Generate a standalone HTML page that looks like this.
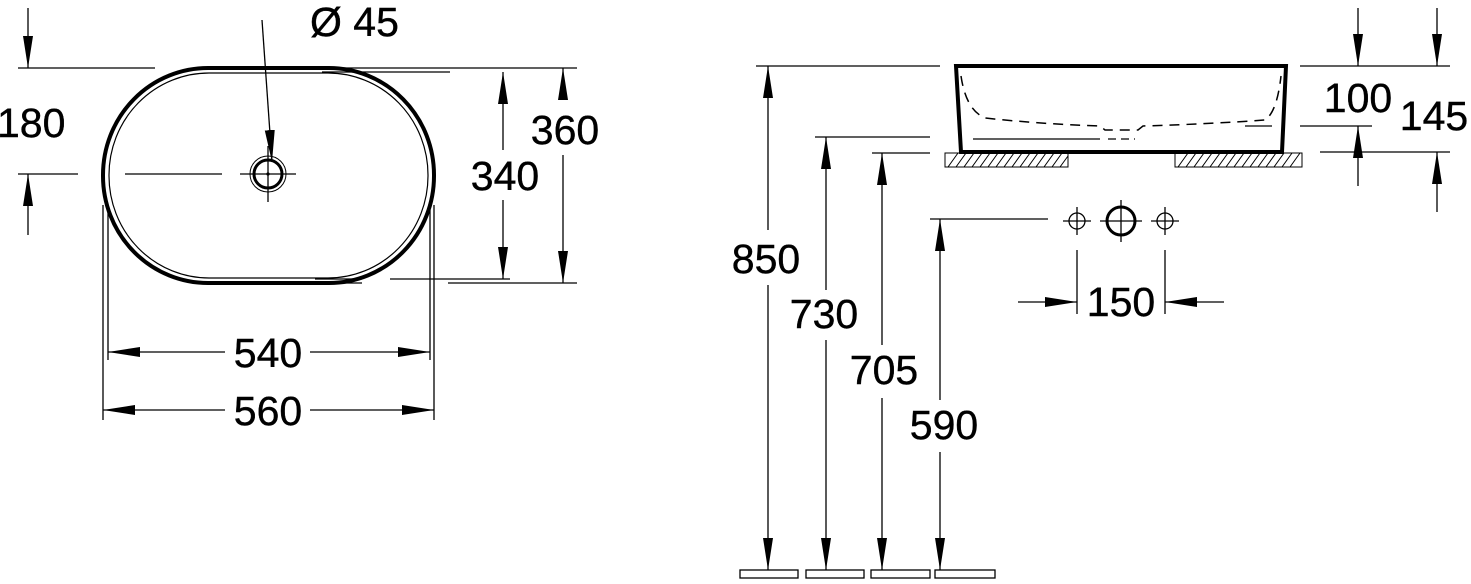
<!DOCTYPE html>
<html><head><meta charset="utf-8"><style>
html,body{margin:0;padding:0;background:#fff;}
svg{display:block;}
text{font-family:"Liberation Sans",sans-serif;font-size:41px;fill:#000;stroke:#000;stroke-width:0.4;}
</style></head><body>
<svg width="1471" height="584" viewBox="0 0 1471 584" xmlns="http://www.w3.org/2000/svg">
<defs>
<marker id="a" markerUnits="userSpaceOnUse" markerWidth="34" markerHeight="12" refX="32" refY="5" orient="auto">
<polygon points="0,0 32,5 0,10" fill="#000"/>
</marker>
</defs>
<g stroke="#000" stroke-width="1.3" fill="none">
<rect x="103" y="68" width="331" height="215" rx="105" ry="107" stroke-width="4"/>
<rect x="109" y="73" width="319" height="205" rx="100" ry="102" stroke-width="1.2"/>
<circle cx="268" cy="174" r="18" stroke-width="1"/>
<circle cx="268" cy="174" r="14" stroke-width="3"/>
<circle cx="268" cy="174" r="1" fill="#000"/>
<line x1="268" y1="146" x2="268" y2="202"/>
<line x1="240" y1="174" x2="296" y2="174"/>
<line x1="125" y1="174" x2="222" y2="174"/>
<line x1="18" y1="174" x2="78" y2="174"/>
<line x1="262" y1="20" x2="272" y2="162" marker-end="url(#a)"/>
<line x1="18" y1="68" x2="155" y2="68"/>
<line x1="28" y1="8" x2="28" y2="68" marker-end="url(#a)"/>
<line x1="28" y1="235" x2="28" y2="174" marker-end="url(#a)"/>
<line x1="313" y1="68" x2="577" y2="68"/>
<line x1="322" y1="72" x2="450" y2="72"/>
<line x1="315" y1="279" x2="362" y2="279"/>
<line x1="315" y1="283" x2="362" y2="283"/>
<line x1="390" y1="279" x2="510" y2="279"/>
<line x1="448" y1="283" x2="577" y2="283"/>
<line x1="503" y1="150" x2="503" y2="72" marker-end="url(#a)"/>
<line x1="503" y1="200" x2="503" y2="279" marker-end="url(#a)"/>
<line x1="563" y1="100" x2="563" y2="68" marker-end="url(#a)"/>
<line x1="563" y1="155" x2="563" y2="283" marker-end="url(#a)"/>
<line x1="103" y1="205" x2="103" y2="420"/>
<line x1="108" y1="210" x2="108" y2="360"/>
<line x1="430" y1="210" x2="430" y2="360"/>
<line x1="434" y1="205" x2="434" y2="420"/>
<line x1="225" y1="352" x2="108" y2="352" marker-end="url(#a)"/>
<line x1="310" y1="352" x2="430" y2="352" marker-end="url(#a)"/>
<line x1="225" y1="410" x2="103" y2="410" marker-end="url(#a)"/>
<line x1="310" y1="410" x2="434" y2="410" marker-end="url(#a)"/>

<path d="M956,66 L1286,66 L1282,152 L961,152 Z" stroke-width="4"/>
<path d="M961,76 Q966,110 985,118 Q1040,124 1100,126 L1105,130 L1138,130 L1143,126 Q1210,124 1265,120 Q1277,112 1281,76" stroke-dasharray="10 7" stroke-width="1.5"/>
<line x1="973" y1="139" x2="1100" y2="139"/>
<line x1="1108" y1="139" x2="1135" y2="139" stroke-dasharray="8 5"/>
<line x1="1245" y1="126" x2="1272" y2="126"/>
<rect x="945" y="153" width="123" height="14" stroke-width="1"/>
<rect x="1175" y="153" width="127" height="14" stroke-width="1"/>
<path d="M948,167 l10,-14 M956,167 l10,-14 M964,167 l10,-14 M972,167 l10,-14 M980,167 l10,-14 M988,167 l10,-14 M996,167 l10,-14 M1004,167 l10,-14 M1012,167 l10,-14 M1020,167 l10,-14 M1028,167 l10,-14 M1036,167 l10,-14 M1044,167 l10,-14 M1052,167 l10,-14 M1060,167 l8,-11 M1178,167 l10,-14 M1186,167 l10,-14 M1194,167 l10,-14 M1202,167 l10,-14 M1210,167 l10,-14 M1218,167 l10,-14 M1226,167 l10,-14 M1234,167 l10,-14 M1242,167 l10,-14 M1250,167 l10,-14 M1258,167 l10,-14 M1266,167 l10,-14 M1274,167 l10,-14 M1282,167 l10,-14 M1290,167 l10,-14" stroke-width="1"/>
<line x1="756" y1="66" x2="940" y2="66"/>
<line x1="815" y1="137" x2="930" y2="137"/>
<line x1="872" y1="153" x2="930" y2="153"/>
<line x1="930" y1="219" x2="1048" y2="219"/>
<line x1="768" y1="230" x2="768" y2="66" marker-end="url(#a)"/>
<line x1="768" y1="285" x2="768" y2="570" marker-end="url(#a)"/>
<line x1="826" y1="290" x2="826" y2="137" marker-end="url(#a)"/>
<line x1="826" y1="340" x2="826" y2="570" marker-end="url(#a)"/>
<line x1="882" y1="345" x2="882" y2="153" marker-end="url(#a)"/>
<line x1="882" y1="398" x2="882" y2="570" marker-end="url(#a)"/>
<line x1="940" y1="400" x2="940" y2="219" marker-end="url(#a)"/>
<line x1="940" y1="452" x2="940" y2="570" marker-end="url(#a)"/>
<rect x="740" y="570" width="58" height="8"/>
<rect x="806" y="570" width="58" height="8"/>
<rect x="871" y="570" width="59" height="8"/>
<rect x="935" y="570" width="60" height="8"/>
<circle cx="1077" cy="221" r="8"/>
<line x1="1063" y1="221" x2="1091" y2="221"/><line x1="1077" y1="207" x2="1077" y2="235"/>
<circle cx="1121" cy="221" r="14" stroke-width="3"/>
<line x1="1100" y1="221" x2="1142" y2="221"/><line x1="1121" y1="200" x2="1121" y2="242"/>
<circle cx="1165" cy="221" r="8"/>
<line x1="1151" y1="221" x2="1179" y2="221"/><line x1="1165" y1="207" x2="1165" y2="235"/>
<line x1="1077" y1="250" x2="1077" y2="314"/>
<line x1="1165" y1="250" x2="1165" y2="314"/>
<line x1="1018" y1="302" x2="1077" y2="302" marker-end="url(#a)"/>
<line x1="1224" y1="302" x2="1165" y2="302" marker-end="url(#a)"/>
<line x1="1300" y1="66" x2="1450" y2="66"/>
<line x1="1300" y1="126" x2="1372" y2="126"/>
<line x1="1320" y1="152" x2="1450" y2="152"/>
<line x1="1358" y1="8" x2="1358" y2="66" marker-end="url(#a)"/>
<line x1="1358" y1="186" x2="1358" y2="126" marker-end="url(#a)"/>
<line x1="1437" y1="8" x2="1437" y2="66" marker-end="url(#a)"/>
<line x1="1437" y1="212" x2="1437" y2="152" marker-end="url(#a)"/>
</g>
<g>
<text x="310" y="36">Ø 45</text>
<text x="-3" y="137">180</text>
<text x="505" y="190" text-anchor="middle">340</text>
<text x="565" y="144" text-anchor="middle">360</text>
<text x="268" y="367" text-anchor="middle">540</text>
<text x="268" y="425" text-anchor="middle">560</text>
<text x="766" y="273" text-anchor="middle">850</text>
<text x="824" y="328" text-anchor="middle">730</text>
<text x="884" y="384" text-anchor="middle">705</text>
<text x="944" y="439" text-anchor="middle">590</text>
<text x="1121" y="316" text-anchor="middle">150</text>
<text x="1358" y="112" text-anchor="middle">100</text>
<text x="1434" y="130" text-anchor="middle">145</text>
</g>
</svg>
</body></html>
